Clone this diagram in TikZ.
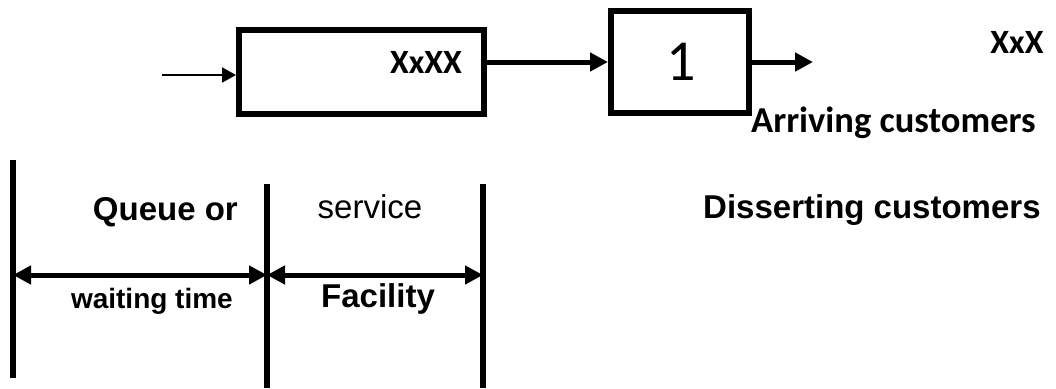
\documentclass[tikz,border=0pt]{standalone}
\usepackage{fontspec}
\usetikzlibrary{arrows.meta}
\newfontfamily\calfont{Carlito}
\newfontfamily\arialfont{Liberation Sans}
\tikzset{
  box/.style={draw, line width=6pt, minimum width=#1, inner sep=0pt, outer sep=3pt},
  flow/.style={line width=5pt, -{Triangle[length=18pt,width=18pt]}},
  thinflow/.style={line width=2pt, -{Triangle[length=14pt,width=15pt]}},
  span/.style={line width=5pt, {Triangle[length=18pt,width=18pt]}-{Triangle[length=18pt,width=18pt]}},
  bar/.style={line width=6pt},
  cbold/.style={font=\calfont\bfseries\fontsize{34}{40}\selectfont, inner sep=0pt},
  abold/.style={font=\arialfont\bfseries\fontsize{33}{38}\selectfont, inner sep=0pt},
  areg/.style={font=\arialfont\fontsize{33}{38}\selectfont, inner sep=0pt},
}
\begin{document}
\begin{tikzpicture}[x=1pt, y=-1pt]
\useasboundingbox (0,0) rectangle (1056,388);

% queue box and server box
\node[box=245pt, minimum height=84pt] (queue) at (361.5,72) {};
\node[box=138pt, minimum height=102pt] (server) at (680,62) {};

\node[cbold, anchor=base] (qlabel) at (426,73) {XxXX};
\node[font=\calfont\fontsize{58}{64}\selectfont, inner sep=0pt, anchor=base] (slabel) at (681,80) {1};

% flow of customers
\coordinate (src) at (162,75);
\coordinate (sink) at (813,62);
\draw[thinflow] (src) -- (src -| queue.west);
\draw[flow] (queue.east |- server.west) -- (server.west);
\draw[flow] (server.east) -- (sink);

% legend texts
\node[cbold, anchor=base] (xxx) at (1017,53) {XxX};
\node[cbold, anchor=base west, font=\calfont\bfseries\fontsize{36.5}{42}\selectfont] (arr) at (751,132) {Arriving customers};
\node[abold, anchor=base west] (dep) at (703,218) {Disserting customers};

% time axis below
\coordinate (l1) at (13,160);
\coordinate (l2) at (13,378);
\coordinate (m1) at (267,184);
\coordinate (m2) at (267,388);
\coordinate (r1) at (483,184);
\coordinate (r2) at (483,388);
\draw[bar] (l1) -- (l2);
\draw[bar] (m1) -- (m2);
\draw[bar] (r1) -- (r2);

\coordinate (la) at (13,275);
\coordinate (ma) at (267,275);
\coordinate (ra) at (483,275);
\draw[span] (la) -- (ma);
\draw[span] (ma) -- (ra);

\node[abold, anchor=base east] (q1) at (238,220) {Queue or};
\node[abold, anchor=base east, font=\arialfont\bfseries\fontsize{28}{32}\selectfont] (q2) at (233,308) {waiting time};
\node[areg, anchor=base] (s1) at (370,218) {service};
\node[abold, anchor=base] (s2) at (378,307) {Facility};
\end{tikzpicture}
\end{document}
